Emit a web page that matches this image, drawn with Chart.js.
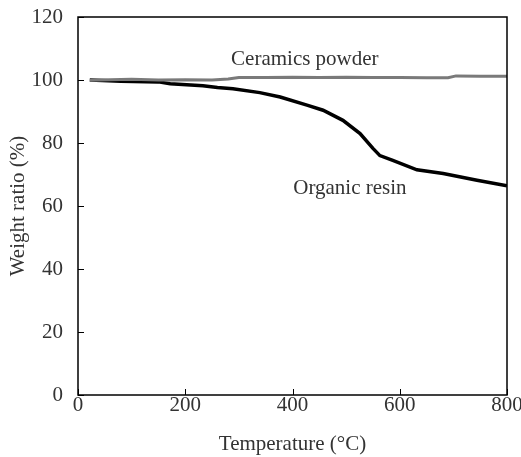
<!DOCTYPE html>
<html><head><meta charset="utf-8">
<script src="https://cdn.jsdelivr.net/npm/chart.js@4/dist/chart.umd.min.js"></script>
<style>html,body{margin:0;padding:0;background:#fff}#wrap{width:521px;height:457px}</style>
</head><body><div id="wrap"><canvas id="c" width="521" height="457"></canvas></div>
<script>
const ceramicsTemp = [22, 60, 100, 150, 200, 250, 280, 300, 350, 400, 450, 500, 550, 600, 650, 690, 705, 750, 800];
const ceramicsWeight = [99.9, 100.1, 100.2, 100.0, 100.1, 100.0, 100.3, 100.8, 100.8, 100.9, 100.8, 100.9, 100.8, 100.8, 100.7, 100.7, 101.3, 101.2, 101.2];
const resinTemp = [22, 80, 150, 172, 233, 260, 289, 339, 377, 427, 457, 494, 526, 550, 563, 587, 632, 681, 744, 800];
const resinWeight = [100, 99.6, 99.4, 98.8, 98.2, 97.6, 97.2, 96.0, 94.6, 92.0, 90.4, 87.2, 83.0, 78.3, 76.0, 74.5, 71.5, 70.3, 68.2, 66.4];
const xTicks = [0, 200, 400, 600, 800];
const yTicks = [0, 20, 40, 60, 80, 100, 120];
const seriesNames = ['Ceramics powder', 'Organic resin'];
const labelX = [423, 507];
const labelY = [106.5, 65.5];

const FONT = '"Liberation Serif", "Times New Roman", serif';
const TXT = '#333';

const framePlugin = {
  id: 'frame',
  afterDatasetsDraw(chart) {
    const {ctx, chartArea: a, scales: {x, y}} = chart;
    ctx.save();
    ctx.strokeStyle = '#000';
    ctx.lineWidth = 1.5;
    ctx.strokeRect(a.left, a.top, a.right - a.left, a.bottom - a.top);
    ctx.lineWidth = 1;
    xTicks.forEach(v => {
      const px = Math.round(x.getPixelForValue(v)) + 0.5;
      ctx.beginPath(); ctx.moveTo(px, a.bottom); ctx.lineTo(px, a.bottom - 6); ctx.stroke();
    });
    yTicks.forEach(v => {
      const py = Math.round(y.getPixelForValue(v)) + 0.5;
      ctx.beginPath(); ctx.moveTo(a.left, py); ctx.lineTo(a.left + 6, py); ctx.stroke();
    });
    ctx.fillStyle = TXT;
    ctx.font = '21px ' + FONT;
    ctx.textAlign = 'center';
    ctx.textBaseline = 'middle';
    seriesNames.forEach((n, i) => {
      ctx.fillText(n, x.getPixelForValue(labelX[i]), y.getPixelForValue(labelY[i]));
    });
    ctx.restore();
  }
};

new Chart(document.getElementById('c'), {
  type: 'scatter',
  data: {
    datasets: [
      {
        label: seriesNames[0],
        data: ceramicsTemp.map((t, i) => ({x: t, y: ceramicsWeight[i]})),
        showLine: true, borderColor: '#7a7a7a', borderWidth: 3, pointRadius: 0,
        tension: 0, order: 0
      },
      {
        label: seriesNames[1],
        data: resinTemp.map((t, i) => ({x: t, y: resinWeight[i]})),
        showLine: true, borderColor: '#000', borderWidth: 3.5, pointRadius: 0,
        tension: 0, order: 1
      }
    ]
  },
  options: {
    responsive: false,
    animation: false,
    devicePixelRatio: 1,
    layout: {padding: {top: 17, right: 14, left: 0, bottom: 0}},
    plugins: {legend: {display: false}, tooltip: {enabled: false}},
    scales: {
      x: {
        type: 'linear', min: 0, max: 800,
        afterBuildTicks: s => { s.ticks = xTicks.map(v => ({value: v})); },
        afterFit: s => { s.height = 62; s.paddingLeft = 0; s.paddingRight = 0; },
        grid: {display: false, drawTicks: false},
        border: {display: false},
        ticks: {color: TXT, font: {family: FONT, size: 21}, padding: -2, maxRotation: 0},
        title: {display: true, text: 'Temperature (°C)', color: TXT, font: {family: FONT, size: 21}, padding: {top: 4, bottom: 0}}
      },
      y: {
        type: 'linear', min: 0, max: 120,
        afterBuildTicks: s => { s.ticks = yTicks.map(v => ({value: v})); },
        afterFit: s => { s.width = 78; s.paddingTop = 0; s.paddingBottom = 0; },
        grid: {display: false, drawTicks: false},
        border: {display: false},
        ticks: {color: TXT, font: {family: FONT, size: 21}, padding: 15},
        title: {display: true, text: 'Weight ratio (%)', color: TXT, font: {family: FONT, size: 21}, padding: {top: 6, bottom: 2}}
      }
    }
  },
  plugins: [framePlugin]
});
</script>
</body></html>
